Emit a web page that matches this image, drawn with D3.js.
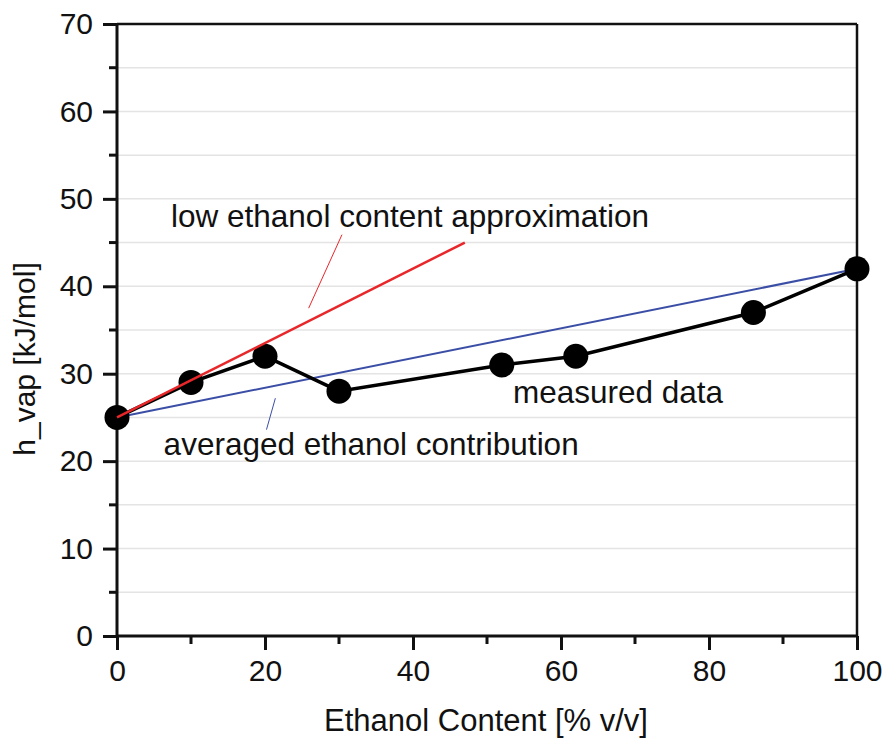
<!DOCTYPE html>
<html>
<head>
<meta charset="utf-8">
<script src="https://cdn.jsdelivr.net/npm/d3@7"></script>
<style>
  body { margin: 0; background: #fff; }
  text { font-family: "Liberation Sans", Arial, sans-serif; fill: #111; }
</style>
</head>
<body>
<div class="chart"></div>
<script>
// measured data
var ethanol = [0, 10, 20, 30, 52, 62, 86, 100];
var hVap = [25, 29, 32, 28, 31, 32, 37, 42];

// low ethanol content approximation (start / end)
var lowX = [0, 47];
var lowY = [25, 45];

// averaged ethanol contribution (start / end)
var avgX = [0, 100];
var avgY = [25, 42];

// axis ticks
var xTicks = [0, 20, 40, 60, 80, 100];
var xMinor = [10, 30, 50, 70, 90];
var yTicks = [0, 10, 20, 30, 40, 50, 60, 70];
var yMinor = [5, 15, 25, 35, 45, 55, 65];

var W = 884, H = 745;
var pLeft = 117, pTop = 24, pRight = 857, pBottom = 636;

var svg = d3.select(".chart").append("svg").attr("width", W).attr("height", H);

var x = d3.scaleLinear().domain([0, 100]).range([pLeft, pRight]);
var y = d3.scaleLinear().domain([0, 70]).range([pBottom, pTop]);

// light grid every 5
svg.append("g")
    .selectAll("line")
    .data(yMinor.concat(yTicks.slice(1, -1)))
    .enter()
    .append("line")
        .attr("x1", pLeft).attr("x2", pRight)
        .attr("y1", function(d) { return y(d); })
        .attr("y2", function(d) { return y(d); })
        .attr("stroke", "#e4e4e4")
        .attr("stroke-width", 1.5);

// frame (top and right)
svg.append("line").attr("x1", pLeft).attr("x2", pRight).attr("y1", pTop).attr("y2", pTop)
    .attr("stroke", "#111").attr("stroke-width", 2.5);
svg.append("line").attr("x1", pRight).attr("x2", pRight).attr("y1", pTop).attr("y2", pBottom)
    .attr("stroke", "#111").attr("stroke-width", 2.5);

// axes
var yAxis = d3.axisLeft(y).tickValues(yTicks).tickSize(14).tickPadding(10);
var xAxis = d3.axisBottom(x).tickValues(xTicks).tickSize(14).tickPadding(10);

var gy = svg.append("g").attr("transform", "translate(" + pLeft + ",0)").call(yAxis);
var gx = svg.append("g").attr("transform", "translate(0," + pBottom + ")").call(xAxis);

[gx, gy].forEach(function(g) {
    g.select(".domain").attr("stroke", "#111").attr("stroke-width", 3);
    g.selectAll(".tick line").attr("stroke", "#111").attr("stroke-width", 3);
    g.selectAll(".tick text").attr("font-size", 30).attr("fill", "#111")
        .style("font-family", "'Liberation Sans', Arial, sans-serif");
});
gy.select(".domain").attr("d", "M0," + pBottom + "V" + pTop);
gx.select(".domain").attr("d", "M" + pLeft + ",0H" + pRight);

// minor ticks
svg.append("g").selectAll("line").data(yMinor).enter().append("line")
    .attr("x1", pLeft - 8).attr("x2", pLeft)
    .attr("y1", function(d) { return y(d); }).attr("y2", function(d) { return y(d); })
    .attr("stroke", "#111").attr("stroke-width", 3);
svg.append("g").selectAll("line").data(xMinor).enter().append("line")
    .attr("y1", pBottom).attr("y2", pBottom + 8)
    .attr("x1", function(d) { return x(d); }).attr("x2", function(d) { return x(d); })
    .attr("stroke", "#111").attr("stroke-width", 3);

// axis titles
svg.append("text")
    .attr("x", 486).attr("y", 731)
    .attr("text-anchor", "middle").attr("font-size", 31)
    .text("Ethanol Content [% v/v]");
svg.append("text")
    .attr("transform", "translate(35,359) rotate(-90)")
    .attr("text-anchor", "middle").attr("font-size", 30)
    .text("h_vap [kJ/mol]");

// model lines
svg.append("line")
    .attr("x1", x(avgX[0])).attr("y1", y(avgY[0]))
    .attr("x2", x(avgX[1])).attr("y2", y(avgY[1]))
    .attr("stroke", "#3b4ea6").attr("stroke-width", 2);

var line = d3.line()
    .x(function(d, i) { return x(ethanol[i]); })
    .y(function(d) { return y(d); });

svg.append("path")
    .attr("d", line(hVap))
    .attr("fill", "none")
    .attr("stroke", "#000")
    .attr("stroke-width", 3.5);

svg.append("g").selectAll("circle")
    .data(hVap)
    .enter()
    .append("circle")
        .attr("cx", function(d, i) { return x(ethanol[i]); })
        .attr("cy", function(d) { return y(d); })
        .attr("r", 12.5)
        .attr("fill", "#000");

svg.append("line")
    .attr("x1", x(lowX[0])).attr("y1", y(lowY[0]))
    .attr("x2", x(lowX[1])).attr("y2", y(lowY[1]))
    .attr("stroke", "#e8272b").attr("stroke-width", 2.5);

// annotation pointers
svg.append("line")
    .attr("x1", x(30.4)).attr("y1", y(45.9)).attr("x2", x(25.9)).attr("y2", y(37.5))
    .attr("stroke", "#e8272b").attr("stroke-width", 1);
svg.append("line")
    .attr("x1", x(21.4)).attr("y1", y(27.2)).attr("x2", x(20.2)).attr("y2", y(23.6))
    .attr("stroke", "#3b4ea6").attr("stroke-width", 1);

// annotation texts
svg.append("text").attr("x", x(7.3)).attr("y", y(46.8)).attr("font-size", 31.5)
    .text("low ethanol content approximation");
svg.append("text").attr("x", x(6.3)).attr("y", y(20.7)).attr("font-size", 31.5)
    .text("averaged ethanol contribution");
svg.append("text").attr("x", x(53.5)).attr("y", y(26.7)).attr("font-size", 31.5)
    .text("measured data");
</script>
</body>
</html>
